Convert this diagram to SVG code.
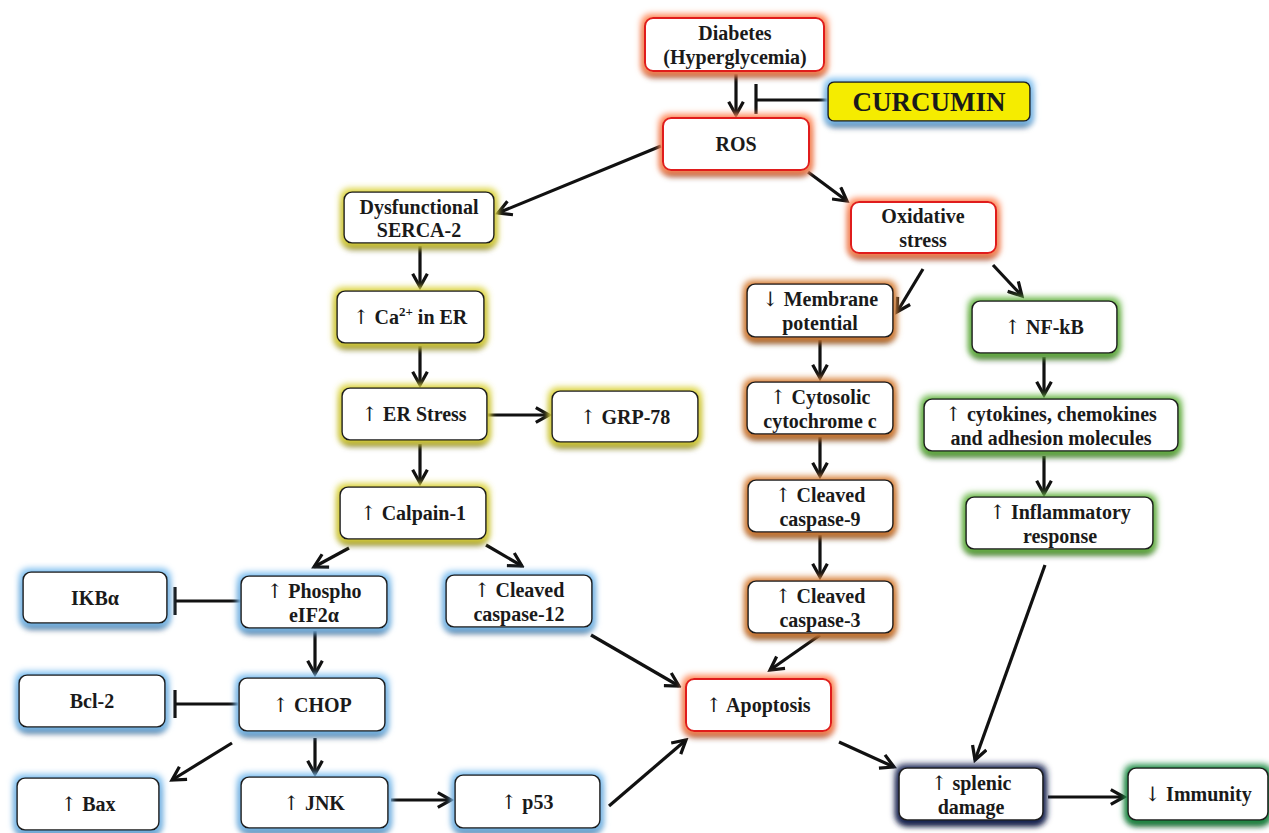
<svg xmlns="http://www.w3.org/2000/svg" width="1269" height="833" viewBox="0 0 1269 833">
<defs>
<style>
.box{fill:#fff;stroke:#1e1e1e;stroke-width:1.6}
.red{fill:#fff;stroke:#e01e1e;stroke-width:2}
.t{font-family:"Liberation Serif","Times New Roman",serif;font-weight:bold;font-size:20px;fill:#1a1a1a;text-anchor:middle}
.big{font-size:27px}
.ar{font-family:"DejaVu Serif","Liberation Serif",serif;font-weight:normal;fill:#1a1a1a}
.c{fill:none;stroke:#111;stroke-width:3.2}
.a{marker-end:url(#ah)}
</style>
<marker id="ah" viewBox="0 0 12 12" refX="10" refY="6" markerWidth="5.5" markerHeight="5.5" orient="auto" markerUnits="strokeWidth">
<path d="M1,1 L10,6 L1,11" fill="none" stroke="#111" stroke-width="2.2" stroke-linejoin="miter"/>
</marker>
<filter id="fr" x="-20%" y="-40%" width="140%" height="190%">
<feGaussianBlur in="SourceAlpha" stdDeviation="3" result="b"/><feOffset in="b" dy="5" result="o"/>
<feFlood flood-color="#6a2a08"/><feComposite in2="o" operator="in" result="s"/>
<feMorphology in="SourceAlpha" operator="dilate" radius="2.5" result="d"/><feGaussianBlur in="d" stdDeviation="3" result="db"/>
<feFlood flood-color="#ff8a5a"/><feComposite in2="db" operator="in" result="g"/>
<feMerge><feMergeNode in="s"/><feMergeNode in="g"/><feMergeNode in="SourceGraphic"/></feMerge>
</filter>
<filter id="fy" x="-20%" y="-40%" width="140%" height="190%">
<feGaussianBlur in="SourceAlpha" stdDeviation="3" result="b"/><feOffset in="b" dy="5" result="o"/>
<feFlood flood-color="#4a4208"/><feComposite in2="o" operator="in" result="s"/>
<feMorphology in="SourceAlpha" operator="dilate" radius="2.5" result="d"/><feGaussianBlur in="d" stdDeviation="3" result="db"/>
<feFlood flood-color="#dcd440"/><feComposite in2="db" operator="in" result="g"/>
<feMerge><feMergeNode in="s"/><feMergeNode in="g"/><feMergeNode in="SourceGraphic"/></feMerge>
</filter>
<filter id="fb" x="-20%" y="-40%" width="140%" height="190%">
<feGaussianBlur in="SourceAlpha" stdDeviation="3" result="b"/><feOffset in="b" dy="5" result="o"/>
<feFlood flood-color="#12305a"/><feComposite in2="o" operator="in" result="s"/>
<feMorphology in="SourceAlpha" operator="dilate" radius="2.5" result="d"/><feGaussianBlur in="d" stdDeviation="3" result="db"/>
<feFlood flood-color="#80c0f0"/><feComposite in2="db" operator="in" result="g"/>
<feMerge><feMergeNode in="s"/><feMergeNode in="g"/><feMergeNode in="SourceGraphic"/></feMerge>
</filter>
<filter id="fo" x="-20%" y="-40%" width="140%" height="190%">
<feGaussianBlur in="SourceAlpha" stdDeviation="3" result="b"/><feOffset in="b" dy="5" result="o"/>
<feFlood flood-color="#4a220a"/><feComposite in2="o" operator="in" result="s"/>
<feMorphology in="SourceAlpha" operator="dilate" radius="2.5" result="d"/><feGaussianBlur in="d" stdDeviation="3" result="db"/>
<feFlood flood-color="#d8823a"/><feComposite in2="db" operator="in" result="g"/>
<feMerge><feMergeNode in="s"/><feMergeNode in="g"/><feMergeNode in="SourceGraphic"/></feMerge>
</filter>
<filter id="fg" x="-20%" y="-40%" width="140%" height="190%">
<feGaussianBlur in="SourceAlpha" stdDeviation="3" result="b"/><feOffset in="b" dy="5" result="o"/>
<feFlood flood-color="#1a3e10"/><feComposite in2="o" operator="in" result="s"/>
<feMorphology in="SourceAlpha" operator="dilate" radius="2.5" result="d"/><feGaussianBlur in="d" stdDeviation="3" result="db"/>
<feFlood flood-color="#6cb84a"/><feComposite in2="db" operator="in" result="g"/>
<feMerge><feMergeNode in="s"/><feMergeNode in="g"/><feMergeNode in="SourceGraphic"/></feMerge>
</filter>
<filter id="fgi" x="-20%" y="-40%" width="140%" height="190%">
<feGaussianBlur in="SourceAlpha" stdDeviation="3" result="b"/><feOffset in="b" dy="5" result="o"/>
<feFlood flood-color="#0e3e1a"/><feComposite in2="o" operator="in" result="s"/>
<feMorphology in="SourceAlpha" operator="dilate" radius="3" result="d"/><feGaussianBlur in="d" stdDeviation="3" result="db"/>
<feFlood flood-color="#22904a"/><feComposite in2="db" operator="in" result="g"/>
<feMerge><feMergeNode in="s"/><feMergeNode in="g"/><feMergeNode in="SourceGraphic"/></feMerge>
</filter>
<filter id="fn" x="-20%" y="-40%" width="140%" height="190%">
<feGaussianBlur in="SourceAlpha" stdDeviation="3" result="b"/><feOffset in="b" dy="5" result="o"/>
<feFlood flood-color="#0a1430"/><feComposite in2="o" operator="in" result="s"/>
<feMorphology in="SourceAlpha" operator="dilate" radius="3" result="d"/><feGaussianBlur in="d" stdDeviation="3" result="db"/>
<feFlood flood-color="#1e2a58"/><feComposite in2="db" operator="in" result="g"/>
<feMerge><feMergeNode in="s"/><feMergeNode in="g"/><feMergeNode in="SourceGraphic"/></feMerge>
</filter>
</defs>
<rect width="1269" height="833" fill="#fff"/>

<g id="connectors">
<line class="c a" x1="736" y1="74" x2="736" y2="115"/>
<line class="c" x1="828" y1="100" x2="756" y2="100"/>
<line class="c" x1="756" y1="84" x2="756" y2="114"/>
<line class="c a" x1="661" y1="146" x2="498" y2="213"/>
<line class="c a" x1="808" y1="172" x2="847" y2="201"/>
<line class="c a" x1="420" y1="246" x2="420" y2="287"/>
<line class="c a" x1="420" y1="346" x2="420" y2="385"/>
<line class="c a" x1="488" y1="415" x2="549" y2="415"/>
<line class="c a" x1="420" y1="444" x2="420" y2="483"/>
<line class="c a" x1="349" y1="548" x2="314" y2="567"/>
<line class="c a" x1="486" y1="545" x2="522" y2="566"/>
<line class="c" x1="241" y1="601" x2="175" y2="601"/>
<line class="c" x1="175" y1="587" x2="175" y2="615"/>
<line class="c a" x1="315" y1="631" x2="315" y2="674"/>
<line class="c" x1="238" y1="704" x2="175" y2="704"/>
<line class="c" x1="175" y1="690" x2="175" y2="718"/>
<line class="c a" x1="232" y1="743" x2="172" y2="780"/>
<line class="c a" x1="315" y1="738" x2="315" y2="774"/>
<line class="c a" x1="391" y1="800" x2="451" y2="800"/>
<line class="c a" x1="609" y1="806" x2="686" y2="740"/>
<line class="c a" x1="591" y1="635" x2="679" y2="686"/>
<line class="c a" x1="820" y1="635" x2="770" y2="670"/>
<line class="c a" x1="839" y1="742" x2="894" y2="767"/>
<line class="c a" x1="1045" y1="565" x2="975" y2="760"/>
<line class="c a" x1="1048" y1="797" x2="1124" y2="797"/>
<line class="c a" x1="923" y1="269" x2="897" y2="312"/>
<line class="c a" x1="993" y1="265" x2="1022" y2="296"/>
<line class="c a" x1="820" y1="340" x2="820" y2="378"/>
<line class="c a" x1="820" y1="437" x2="820" y2="476"/>
<line class="c a" x1="820" y1="535" x2="820" y2="577"/>
<line class="c a" x1="1044" y1="357" x2="1044" y2="395"/>
<line class="c a" x1="1044" y1="456" x2="1044" y2="494"/>
</g>

<g id="diabetes"><rect class="red" filter="url(#fr)" x="645" y="18" width="179" height="53" rx="8"/>
<text class="t" x="735" y="40">Diabetes</text><text class="t" x="735" y="64">(Hyperglycemia)</text></g>
<g id="curcumin"><rect x="828" y="82" width="202" height="39" rx="6" fill="#f5ec00" stroke="#1e1e1e" stroke-width="1.6" filter="url(#fb)"/>
<text class="t big" x="929" y="111">CURCUMIN</text></g>
<g id="ros"><rect class="red" filter="url(#fr)" x="663" y="118" width="146" height="52" rx="8"/>
<text class="t" x="736" y="151">ROS</text></g>
<g id="serca"><rect class="box" filter="url(#fy)" x="344" y="192" width="150" height="51" rx="8"/>
<text class="t" x="419" y="214">Dysfunctional</text><text class="t" x="419" y="237">SERCA-2</text></g>
<g id="oxidative"><rect class="red" filter="url(#fr)" x="851" y="202" width="145" height="51" rx="8"/>
<text class="t" x="923" y="223">Oxidative</text><text class="t" x="923" y="247">stress</text></g>
<g id="ca"><rect class="box" filter="url(#fy)" x="337" y="291" width="147" height="52" rx="8"/>
<text class="t" x="410" y="324"><tspan class="ar">↑</tspan> Ca<tspan font-size="13" dy="-8">2+</tspan><tspan dy="8"> in ER</tspan></text></g>
<g id="membrane"><rect class="box" filter="url(#fo)" x="747" y="284" width="146" height="53" rx="8"/>
<text class="t" x="820" y="306"><tspan class="ar">↓</tspan> Membrane</text><text class="t" x="820" y="330">potential</text></g>
<g id="nfkb"><rect class="box" filter="url(#fg)" x="972" y="301" width="145" height="52" rx="8"/>
<text class="t" x="1044" y="334"><tspan class="ar">↑</tspan> NF-kB</text></g>
<g id="erstress"><rect class="box" filter="url(#fy)" x="342" y="388" width="145" height="52" rx="8"/>
<text class="t" x="414" y="421"><tspan class="ar">↑</tspan> ER Stress</text></g>
<g id="grp78"><rect class="box" filter="url(#fy)" x="552" y="391" width="146" height="51" rx="8"/>
<text class="t" x="625" y="424"><tspan class="ar">↑</tspan> GRP-78</text></g>
<g id="cytosolic"><rect class="box" filter="url(#fo)" x="747" y="382" width="146" height="52" rx="8"/>
<text class="t" x="820" y="404"><tspan class="ar">↑</tspan> Cytosolic</text><text class="t" x="820" y="428">cytochrome c</text></g>
<g id="cytokines"><rect class="box" filter="url(#fg)" x="924" y="399" width="254" height="52" rx="8"/>
<text class="t" x="1051" y="421"><tspan class="ar">↑</tspan> cytokines, chemokines</text><text class="t" x="1051" y="445">and adhesion molecules</text></g>
<g id="casp9"><rect class="box" filter="url(#fo)" x="748" y="480" width="145" height="52" rx="8"/>
<text class="t" x="820" y="502"><tspan class="ar">↑</tspan> Cleaved</text><text class="t" x="820" y="526">caspase-9</text></g>
<g id="inflammatory"><rect class="box" filter="url(#fg)" x="966" y="497" width="187" height="52" rx="8"/>
<text class="t" x="1060" y="519"><tspan class="ar">↑</tspan> Inflammatory</text><text class="t" x="1060" y="543">response</text></g>
<g id="calpain"><rect class="box" filter="url(#fy)" x="340" y="487" width="146" height="52" rx="8"/>
<text class="t" x="413" y="520"><tspan class="ar">↑</tspan> Calpain-1</text></g>
<g id="ikba"><rect class="box" filter="url(#fb)" x="23" y="572" width="144" height="51" rx="8"/>
<text class="t" x="95" y="605">IKBα</text></g>
<g id="phospho"><rect class="box" filter="url(#fb)" x="241" y="576" width="146" height="52" rx="8"/>
<text class="t" x="314" y="598"><tspan class="ar">↑</tspan> Phospho</text><text class="t" x="314" y="622">eIF2α</text></g>
<g id="casp12"><rect class="box" filter="url(#fb)" x="446" y="575" width="146" height="52" rx="8"/>
<text class="t" x="519" y="597"><tspan class="ar">↑</tspan> Cleaved</text><text class="t" x="519" y="621">caspase-12</text></g>
<g id="casp3"><rect class="box" filter="url(#fo)" x="748" y="581" width="145" height="52" rx="8"/>
<text class="t" x="820" y="603"><tspan class="ar">↑</tspan> Cleaved</text><text class="t" x="820" y="627">caspase-3</text></g>
<g id="bcl2"><rect class="box" filter="url(#fb)" x="19" y="675" width="146" height="52" rx="8"/>
<text class="t" x="92" y="708">Bcl-2</text></g>
<g id="chop"><rect class="box" filter="url(#fb)" x="239" y="678" width="146" height="53" rx="8"/>
<text class="t" x="312" y="712"><tspan class="ar">↑</tspan> CHOP</text></g>
<g id="apoptosis"><rect class="red" filter="url(#fr)" x="686" y="679" width="145" height="52" rx="8"/>
<text class="t" x="758" y="712"><tspan class="ar">↑</tspan> Apoptosis</text></g>
<g id="bax"><rect class="box" filter="url(#fb)" x="17" y="778" width="142" height="52" rx="8"/>
<text class="t" x="88" y="811"><tspan class="ar">↑</tspan> Bax</text></g>
<g id="jnk"><rect class="box" filter="url(#fb)" x="241" y="777" width="147" height="51" rx="8"/>
<text class="t" x="314" y="810"><tspan class="ar">↑</tspan> JNK</text></g>
<g id="p53"><rect class="box" filter="url(#fb)" x="455" y="775" width="145" height="53" rx="8"/>
<text class="t" x="527" y="809"><tspan class="ar">↑</tspan> p53</text></g>
<g id="splenic"><rect class="box" filter="url(#fn)" x="899" y="768" width="144" height="52" rx="8"/>
<text class="t" x="971" y="790"><tspan class="ar">↑</tspan> splenic</text><text class="t" x="971" y="814">damage</text></g>
<g id="immunity"><rect class="box" filter="url(#fgi)" x="1128" y="768" width="140" height="52" rx="8"/>
<text class="t" x="1198" y="801"><tspan class="ar">↓</tspan> Immunity</text></g>
</svg>
